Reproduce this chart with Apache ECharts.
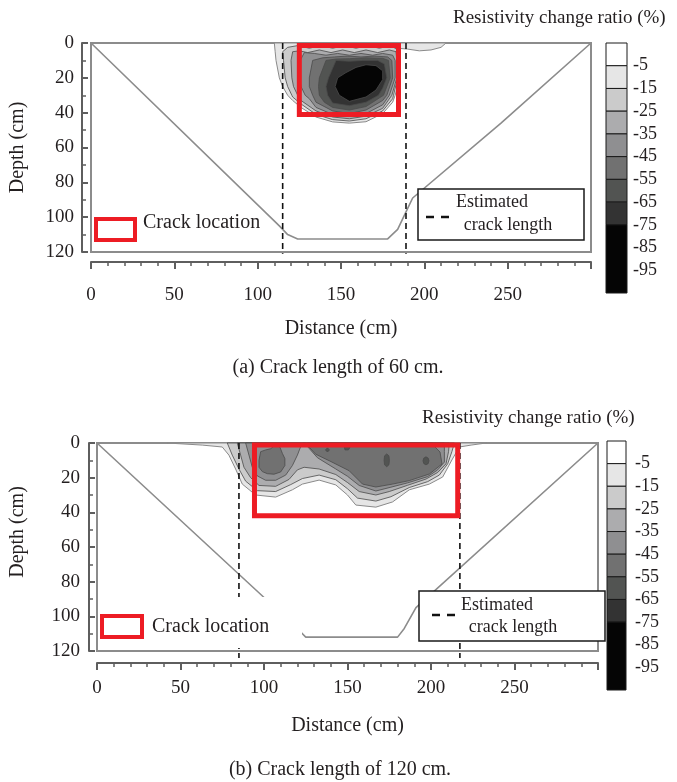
<!DOCTYPE html>
<html>
<head>
<meta charset="utf-8">
<title>Resistivity change ratio</title>
<script src="https://cdn.jsdelivr.net/npm/echarts@6/dist/echarts.min.js"></script>
<style>
html, body { margin: 0; padding: 0; background: #fff; }
#main { width: 677px; height: 782px; }
</style>
</head>
<body>
<div id="main"></div>
<script>
// colour scale (resistivity change ratio, %)
const levelBounds = [5, -5, -15, -25, -35, -45, -55, -65, -75, -105];
const levelColors = ['#ffffff', '#e6e6e6', '#cbcbcb', '#acacae', '#8f8f91', '#717171', '#525452', '#333333', '#050505'];
const colorbarLabels = [-5, -15, -25, -35, -45, -55, -65, -75, -85, -95];

// ---- (a) crack length of 60 cm : contours as [distance, depth] ----
const aLevel1 = [[110,0],[110.5,5],[111,10],[113,20],[115,25],[118,30],[121,33],[126,37],[135,42.5],[145,45.3],[155,46],[165,45.2],[175,40.5],[181,34],[182.5,30],[185,20],[185,10],[184.5,5],[184,3],[190,3.5],[197,4.5],[204,4],[210,2.5],[213,0]];
const aLevel2 = [[115,5],[115.5,10],[116.5,20],[118,25],[120.5,30],[121,31],[126,35],[135,41],[145,44],[155,44.8],[165,43.5],[175,39],[181,32],[181.5,30],[184,20],[184,10],[184,4],[180,1.5],[173,3],[166,1.5],[159,3],[152,1.5],[145,3],[138,1.5],[131,3],[124,1.5],[118,2.5]];
const aLevel3 = [[121,5],[120,10],[120.5,20],[121.5,25],[124,30],[126,33],[135,39],[145,42.5],[155,43.5],[165,42],[175,37.5],[180.5,30],[183.5,20],[183.5,10],[183,5],[179,4],[172,5.5],[165,4],[158,5.5],[151,4],[144,5.5],[137,4],[130,5.5],[125,4.5]];
const aLevel4 = [[128,5.5],[125.5,10],[125,20],[126,25],[128.5,30],[131,32],[135,37],[145,41],[155,42],[165,40.5],[175,35.5],[179,30],[182.5,20],[182.5,10],[181,7],[175,6],[169,7],[162,6],[155,7],[148,6],[141,7],[134,6]];
const aLevel5 = [[133,10],[131,20],[131,25],[133,30],[135,34],[145,39],[155,40.5],[165,38.5],[175,33],[177.5,30],[181,20],[180.5,10],[178,8],[170,7.5],[162,8],[154,7.5],[146,8],[139,8.5]];
const aLevel6 = [[141,10],[137,20],[136.5,25],[137,30],[140,34],[145,37],[155,38.5],[165,36.5],[175.5,30],[179.5,20],[178.5,10],[175,8.8],[165,8.5],[155,9],[147,9.2]];
const aLevel7 = [[147,10],[142.5,20],[141,25],[142,30],[145,34.5],[155,36],[165,34],[172.5,30],[175,26],[177.5,20],[176,12],[172,10],[163,10],[155,10.5]];
const aLevel8 = [[148,20],[146.5,25],[149,30],[155,33.5],[165,31],[171,27],[175,21],[175,16],[171,13],[165,12.5],[159,14],[153,17]];
const aSection = [[0,0],[113,105],[118,110],[124,112.5],[178,112.5],[184,107],[189,97],[193,89],[246,46],[300,0]];
const aCrackBox = [125, 1.5, 184.5, 41];
const aCrackEnds = [115, 189];

// ---- (b) crack length of 120 cm ----
const bLevel1 = [[42,0],[63,1.2],[75,2.3],[79,7],[83,15],[87,23.7],[95,30],[107,31.2],[117,27],[123,23.7],[133,21.4],[143,24.2],[150,30],[155,35.8],[167,37],[177,34],[187,27],[199,23.7],[207,19.6],[212.5,9.8],[217,2.3],[224,1.2],[233,0]];
const bLevel2 = [[78,0],[81,7],[85,15],[89,22],[96,27.5],[107,28],[116,24],[123,20.5],[133,18.5],[143,21.2],[150,26.4],[156,31.8],[167,33.5],[176,31],[187,25.7],[198,22.3],[205,18.5],[210,12],[212.5,5],[214,0]];
const bLevel3 = [[84,0],[86,7],[88,14],[92,20],[97,24.5],[107,25],[115,21],[120,15.5],[124,14],[133,15],[143,18.2],[150,22.8],[157,28],[167,30],[175,28],[186,24.4],[197,20.8],[204,17],[209,12],[210.5,5],[211,0]];
const bLevel4 = [[89,0],[91,7],[93,14],[96,19],[101,21.5],[107,21.5],[113,18.5],[117,13],[120,7],[122,2],[123,0],[125,0],[126,2],[132,8.5],[143,15],[150,19.2],[157,24.5],[167,27.7],[176,25.5],[186,23],[198,19.4],[204,15.5],[208,11],[208,5],[208,0]];
const bLevel5a = [[98,5],[97,10],[97,14],[99,16.5],[102,17.7],[106,18],[110,16.7],[112.5,13],[112.5,9],[111,6],[109.5,2.3],[107,1],[104,3.3],[101,4]];
const bLevel5b = [[126,0],[127,2.3],[131,6.5],[139,10.2],[151,16],[159,23.7],[167,25.4],[177,23.7],[187,21.7],[199,17.9],[206.6,12.1],[205.4,5.2],[202.4,2.3],[201,0]];
const bSpot1 = [[173.5,6.3],[174.8,7.4],[175.1,10],[174.8,12.6],[173.5,13.7],[172.2,12.6],[171.9,10],[172.2,7.4]];
const bSpot2 = [[197,8],[198.3,8.7],[198.8,10.3],[198.3,11.9],[197,12.6],[195.7,11.9],[195.2,10.3],[195.7,8.7]];
const bSpot3 = [[148,2],[150,1.6],[151.5,2.6],[150.5,4],[148.5,4]];
const bSpot4 = [[138,2.8],[139.2,4],[138,5.2],[136.8,4]];
const bSection = [[0,0],[101,90],[117,105],[122,109],[125,112],[180,112],[184,107],[191,95],[300,0]];
const bCrackBox = [94.3, 1.2, 216, 42];
const bCrackEnds = [85, 217.3];

const FONT = "'Liberation Serif', 'Times New Roman', serif";
const TXT = '#231f20';
const AX = '#5e5e5e';

const aContours = [[1, aLevel1], [2, aLevel2], [3, aLevel3], [4, aLevel4], [5, aLevel5], [6, aLevel6], [7, aLevel7], [8, aLevel8]];
const bContours = [[1, bLevel1], [2, bLevel2], [3, bLevel3], [4, bLevel4], [5, bLevel5a], [5, bLevel5b],
	[6, bSpot1], [6, bSpot2], [6, bSpot3], [6, bSpot4]];

function contourSeries(gi, contours) {
	return {
		type: 'custom', xAxisIndex: gi, yAxisIndex: gi, z: 2, silent: true,
		data: contours.map((c, i) => [c[1][0][0], c[1][0][1], i]),
		encode: { x: 0, y: 1 },
		renderItem: (params, api) => {
			const c = contours[params.dataIndex];
			const pts = c[1].map(p => api.coord(p));
			return {
				type: 'polygon',
				shape: { points: pts },
				style: { fill: levelColors[c[0]], stroke: c[0] === 1 ? '#8a8a8a' : '#4a4a4a', lineWidth: c[0] === 1 ? 1 : 0.8 }
			};
		}
	};
}

function panelSeries(gi, contours, section, crackBox, crackEnds, dashEnd) {
	const list = [contourSeries(gi, contours)];
	list.push({
		type: 'line', xAxisIndex: gi, yAxisIndex: gi, data: section, symbol: 'none', silent: true, z: 3,
		lineStyle: { color: '#8c8c8c', width: 1.6 }
	});
	crackEnds.forEach(x => {
		list.push({
			type: 'line', xAxisIndex: gi, yAxisIndex: gi, data: [[x, 0], [x, dashEnd]], symbol: 'none', silent: true, clip: false, z: 4,
			lineStyle: { color: '#111', width: 1.6, type: [6, 4] }
		});
	});
	list.push({
		type: 'custom', xAxisIndex: gi, yAxisIndex: gi, z: 5, silent: true,
		data: [crackBox], encode: { x: [0, 2], y: [1, 3] },
		renderItem: (params, api) => {
			const a = api.coord([api.value(0), api.value(1)]);
			const b = api.coord([api.value(2), api.value(3)]);
			return {
				type: 'rect',
				shape: { x: a[0], y: a[1], width: b[0] - a[0], height: b[1] - a[1] },
				style: { fill: 'none', stroke: '#ed1c24', lineWidth: 5 }
			};
		}
	});
	return list;
}

function colorbarSeries(gi) {
	return {
		type: 'custom', xAxisIndex: gi, yAxisIndex: gi, silent: true,
		data: levelColors.map((c, i) => [0, levelBounds[i], levelBounds[i + 1], i]),
		encode: { x: 0, y: [1, 2] },
		renderItem: (params, api) => {
			const a = api.coord([0, api.value(1)]);
			const b = api.coord([1, api.value(2)]);
			return {
				type: 'rect',
				shape: { x: a[0], y: a[1], width: b[0] - a[0], height: b[1] - a[1] },
				style: { fill: levelColors[api.value(3)], stroke: '#1a1a1a', lineWidth: 1 }
			};
		}
	};
}

function distanceAxis(gi, offset, margin, gap) {
	return {
		gridIndex: gi, type: 'value', min: 0, max: 300, interval: 50, position: 'bottom', offset: offset,
		axisLine: { show: true, onZero: false, lineStyle: { color: AX, width: 2 } },
		axisTick: { show: true, length: 7, lineStyle: { color: AX, width: 2 } },
		minorTick: { show: true, splitNumber: 5, length: 4, lineStyle: { color: AX, width: 1.5 } },
		axisLabel: { margin: margin, fontFamily: FONT, fontSize: 19, color: TXT, formatter: v => (v === 300 ? '' : v) },
		splitLine: { show: false },
		name: 'Distance (cm)', nameLocation: 'middle', nameGap: gap,
		nameTextStyle: { fontFamily: FONT, fontSize: 20, color: TXT }
	};
}

function depthAxis(gi, offset, margin, gap, pad) {
	return {
		gridIndex: gi, type: 'value', inverse: true, min: 0, max: 120, interval: 20, offset: offset,
		axisLine: { show: true, onZero: false, lineStyle: { color: AX, width: 2 } },
		axisTick: { show: true, inside: true, length: 6, lineStyle: { color: AX, width: 2 } },
		minorTick: { show: true, splitNumber: 2, length: 4, lineStyle: { color: AX, width: 1.5 } },
		axisLabel: { margin: margin, fontFamily: FONT, fontSize: 19, color: TXT },
		splitLine: { show: false },
		name: 'Depth (cm)', nameLocation: 'middle', nameGap: gap, nameRotate: 90,
		nameTextStyle: { fontFamily: FONT, fontSize: 20, color: TXT, padding: pad }
	};
}

function barXAxis(gi) {
	return { gridIndex: gi, type: 'value', min: 0, max: 1, show: false };
}

function barYAxis(gi, margin) {
	return {
		gridIndex: gi, type: 'value', min: -105, max: 5, position: 'right',
		axisLine: { show: false }, axisTick: { show: false }, splitLine: { show: false },
		axisLabel: { customValues: colorbarLabels, margin: margin, fontFamily: FONT, fontSize: 18, color: TXT }
	};
}

function txt(x, y, text, size, align) {
	return {
		type: 'text', x: x, y: y, z: 20,
		style: { text: text, font: size + 'px ' + FONT, fill: TXT, textAlign: align || 'left', textVerticalAlign: 'middle' }
	};
}

function estimatedLegend(x, y, w, h, dashY, dashX, c1, c2) {
	return [
		{ type: 'rect', z: 15, shape: { x: x, y: y, width: w, height: h }, style: { fill: '#fff', stroke: '#1a1a1a', lineWidth: 1.5 } },
		{ type: 'line', z: 16, shape: { x1: dashX, y1: dashY, x2: dashX + 8, y2: dashY }, style: { stroke: '#111', lineWidth: 2.5 } },
		{ type: 'line', z: 16, shape: { x1: dashX + 15, y1: dashY, x2: dashX + 23, y2: dashY }, style: { stroke: '#111', lineWidth: 2.5 } },
		txt(c1[0], c1[1], 'Estimated', 18, 'center'),
		txt(c2[0], c2[1], 'crack length', 18, 'center')
	];
}

const chart = echarts.init(document.getElementById('main'));

chart.setOption({
	animation: false,
	backgroundColor: '#fff',
	grid: [
		{ left: 88, top: 43, width: 503, height: 209, show: true, borderColor: '#8c8c8c', borderWidth: 2, backgroundColor: '#fff' },
		{ left: 606, top: 43, width: 21, height: 250 },
		{ left: 94, top: 443, width: 504, height: 208, show: true, borderColor: '#8c8c8c', borderWidth: 2, backgroundColor: '#fff' },
		{ left: 607, top: 441, width: 19, height: 249 }
	],
	xAxis: [distanceAxis(0, 10, 24, 57), barXAxis(1), distanceAxis(2, 12, 16, 53), barXAxis(3)],
	yAxis: [depthAxis(0, 9, 8, 54, 0), barYAxis(1, 6), depthAxis(2, 8, 9, 61, [0, 0, 0, 30]), barYAxis(3, 9)],
	series: [].concat(
		panelSeries(0, aContours, aSection, aCrackBox, aCrackEnds, 121),
		[colorbarSeries(1)],
		panelSeries(2, bContours, bSection, bCrackBox, bCrackEnds, 124),
		[colorbarSeries(3)]
	),
	graphic: [].concat(
		[
			txt(453, 18, 'Resistivity change ratio (%)', 19),
			txt(422, 418, 'Resistivity change ratio (%)', 19),
			// crack location legend (a)
			{ type: 'rect', z: 15, shape: { x: 96, y: 219, width: 39, height: 21 }, style: { fill: 'none', stroke: '#ed1c24', lineWidth: 4 } },
			txt(143, 223, 'Crack location', 20),
			// crack location legend (b), with white background
			{ type: 'rect', z: 14, shape: { x: 99, y: 597, width: 203, height: 51 }, style: { fill: '#fff' } },
			{ type: 'rect', z: 15, shape: { x: 102, y: 616, width: 40, height: 21 }, style: { fill: 'none', stroke: '#ed1c24', lineWidth: 4 } },
			txt(152, 627, 'Crack location', 20),
			txt(338, 368, '(a) Crack length of 60 cm.', 20, 'center'),
			txt(340, 770, '(b) Crack length of 120 cm.', 20, 'center')
		],
		estimatedLegend(418, 189, 166, 51, 217, 426, [492, 202], [508, 225]),
		estimatedLegend(419, 591, 186, 50, 615, 432, [497, 605], [513, 627])
	)
});
</script>
</body>
</html>
